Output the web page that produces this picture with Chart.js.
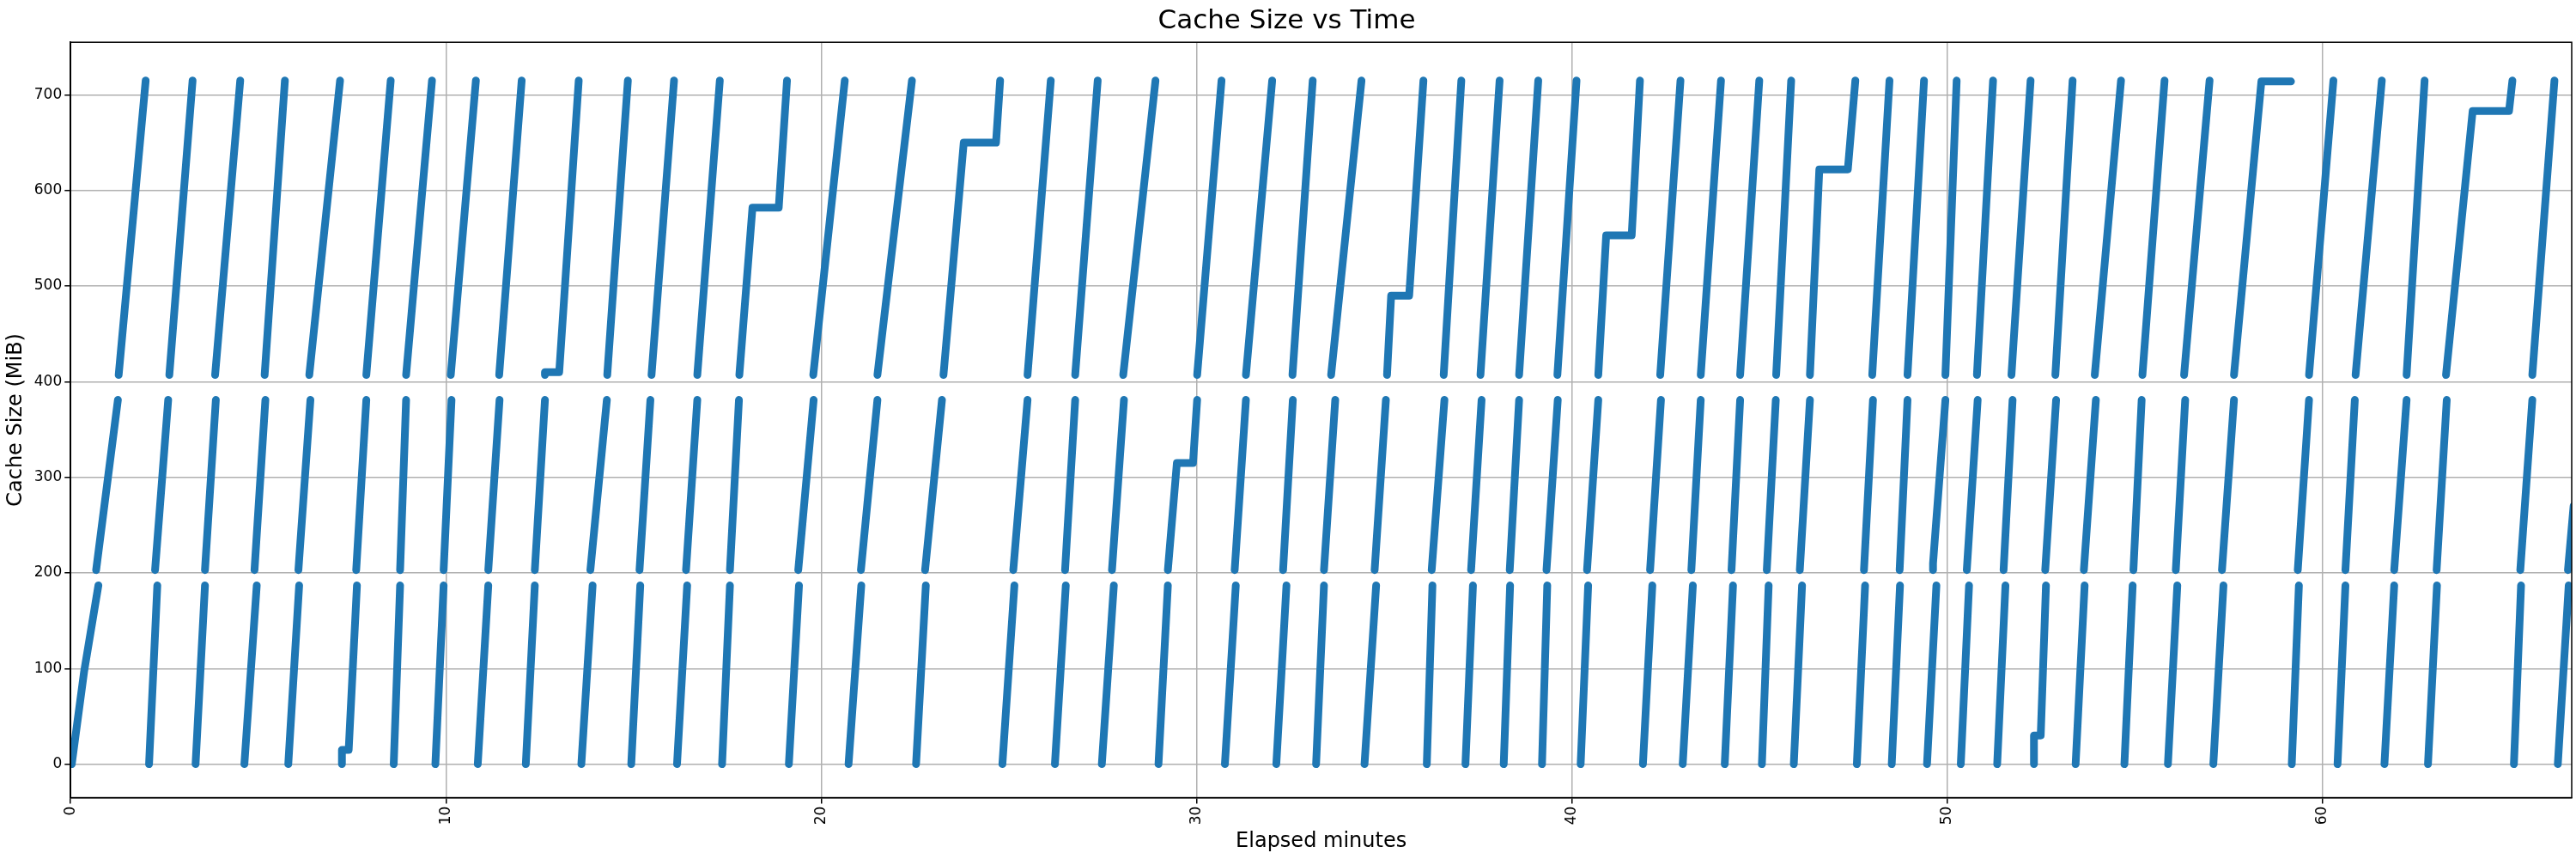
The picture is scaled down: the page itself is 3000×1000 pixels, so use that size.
<!DOCTYPE html>
<html>
<head>
<meta charset="utf-8">
<script src="https://cdn.jsdelivr.net/npm/chart.js@4"></script>
<style>
  body { margin: 0; background: #fff; }
  #wrap { width: 3000px; height: 1000px; }
</style>
</head>
<body>
<div id="wrap"><canvas id="cacheChart" width="3000" height="1000"></canvas></div>
<script>
// tick labels
const xTicks = [0, 10, 20, 30, 40, 50, 60];
const yTicks = [0, 100, 200, 300, 400, 500, 600, 700];

// each band fills from low to high, ramps are [startMin, endMin] or [startMin, endMin, endValue]
const topLow = 407, topHigh = 715;
const topRamps = [
  [1.28, 2.00], [2.63, 3.25], [3.85, 4.52], [5.17, 5.71], [6.36, 7.18], [7.88, 8.53],
  [8.94, 9.63], [10.13, 10.80], [11.42, 12.02], [12.64, 13.54], [14.30, 14.85], [15.48, 16.08],
  [16.70, 17.30], [17.82, 19.09], [19.79, 20.63], [21.50, 22.42], [23.26, 24.77], [25.50, 26.12],
  [26.77, 27.37], [28.05, 28.91], [30.02, 30.67], [31.32, 32.02], [32.56, 33.10], [33.59, 34.40],
  [35.08, 36.05], [36.59, 37.06], [37.57, 38.08], [38.60, 39.11], [39.62, 40.13], [40.71, 41.82],
  [42.36, 42.90], [43.44, 43.98], [44.49, 45.00], [45.45, 45.85], [46.35, 47.56], [48.01, 48.47],
  [48.95, 49.39], [49.96, 50.26], [50.80, 51.23], [51.72, 52.23], [52.89, 53.35], [53.94, 54.64],
  [55.21, 55.80], [56.32, 57.00], [57.65, 59.17, 714], [59.65, 60.30], [60.89, 61.59], [62.25, 62.73],
  [63.30, 65.07], [65.60, 66.19]
];
// [rampIndex, reachMin, value, leaveMin]
const topSteps = [
  [9, 12.64, 410, 13.02], [13, 18.17, 582, 18.87], [16, 23.80, 650, 24.66], [24, 35.19, 490, 35.67],
  [29, 40.92, 553, 41.60], [34, 46.60, 622, 47.36], [44, 58.38, 714, 58.38], [48, 64.01, 683, 64.98]
];

const midLow = 203, midHigh = 381;
const midRamps = [
  [0.68, 1.26], [2.25, 2.60], [3.58, 3.87], [4.90, 5.19], [6.07, 6.39], [7.61, 7.88],
  [8.78, 8.94], [9.94, 10.15], [11.13, 11.43], [12.37, 12.64], [13.85, 14.29], [15.16, 15.45],
  [16.40, 16.70], [17.57, 17.81], [19.39, 19.80], [21.06, 21.50], [22.77, 23.22], [25.12, 25.50],
  [26.50, 26.77], [27.75, 28.07], [29.24, 30.02], [31.02, 31.32], [32.31, 32.57], [33.40, 33.70],
  [34.75, 35.05], [36.27, 36.61], [37.32, 37.60], [38.35, 38.60], [39.33, 39.63], [40.41, 40.71],
  [42.09, 42.38], [43.19, 43.44], [44.26, 44.49], [45.20, 45.44], [46.08, 46.35], [47.79, 48.03],
  [48.74, 48.95], [49.63, 49.96], [50.53, 50.82], [51.51, 51.75], [52.62, 52.91], [53.65, 53.97],
  [54.97, 55.19], [56.10, 56.35], [57.33, 57.65], [59.35, 59.65], [60.62, 60.87], [61.92, 62.25],
  [63.05, 63.32], [65.28, 65.60], [66.55, 66.70, 270]
];
const midSteps = [
  [20, 29.48, 315, 29.91], [37, 49.63, 210, 49.63]
];

const lowLow = 0, lowHigh = 187;
const lowRamps = [
  [0.03, 0.74], [2.09, 2.31], [3.33, 3.58], [4.63, 4.96], [5.80, 6.09], [7.23, 7.63],
  [8.61, 8.78], [9.72, 9.94], [10.85, 11.13], [12.13, 12.37], [13.61, 13.91], [14.94, 15.18],
  [16.16, 16.43], [17.36, 17.57], [19.14, 19.41], [20.73, 21.07], [22.53, 22.79], [24.83, 25.15],
  [26.23, 26.52], [27.48, 27.80], [28.99, 29.24], [30.76, 31.05], [32.13, 32.40], [33.19, 33.40],
  [34.48, 34.79], [36.14, 36.29], [37.17, 37.37], [38.19, 38.36], [39.21, 39.35], [40.24, 40.44],
  [41.90, 42.15], [42.96, 43.23], [44.08, 44.30], [45.07, 45.25], [45.92, 46.14], [47.60, 47.82],
  [48.53, 48.75], [49.47, 49.72], [50.37, 50.59], [51.34, 51.56], [52.32, 52.64], [53.43, 53.67],
  [54.73, 54.95], [55.89, 56.14], [57.10, 57.37], [59.19, 59.38], [60.41, 60.62], [61.66, 61.92],
  [62.82, 63.06], [65.11, 65.30], [66.28, 66.57]
];
const lowSteps = [
  [0, 0.36, 97, 0.36], [5, 7.23, 15, 7.41], [40, 52.32, 30, 52.50]
];

// turn ramps into line points, null breaks between ramps
function bandPoints(ramps, steps, low, high) {
  const pts = [];
  ramps.forEach((r, i) => {
    pts.push({x: r[0], y: low});
    steps.filter(s => s[0] === i).forEach(s => {
      pts.push({x: s[1], y: s[2]});
      pts.push({x: s[3], y: s[2]});
    });
    pts.push({x: r[1], y: r.length > 2 ? r[2] : high});
    pts.push({x: r[1], y: null});
  });
  return pts;
}

const blue = '#1f77b4';
function band(label, pts) {
  return {
    label: label, data: pts, showLine: true, spanGaps: false,
    borderColor: blue, backgroundColor: blue, borderWidth: 9,
    borderCapStyle: 'round', borderJoinStyle: 'round', pointRadius: 0
  };
}

// box around the plot like matplotlib
const frame = {
  id: 'frame',
  afterDraw(chart) {
    const a = chart.chartArea, c = chart.ctx;
    c.save();
    c.strokeStyle = '#000';
    c.lineWidth = 1.5;
    c.strokeRect(a.left, a.top, a.right - a.left, a.bottom - a.top);
    c.restore();
  }
};

const font = 'DejaVu Sans';
new Chart(document.getElementById('cacheChart'), {
  type: 'scatter',
  data: {
    datasets: [
      band('top', bandPoints(topRamps, topSteps, topLow, topHigh)),
      band('mid', bandPoints(midRamps, midSteps, midLow, midHigh)),
      band('low', bandPoints(lowRamps, lowSteps, lowLow, lowHigh))
    ]
  },
  options: {
    responsive: false,
    animation: false,
    layout: { padding: { left: 2, right: 5, top: 0, bottom: 0 } },
    plugins: {
      legend: { display: false },
      tooltip: { enabled: false },
      title: {
        display: true, text: 'Cache Size vs Time', color: '#000',
        font: { family: font, size: 31, weight: 'normal' }, padding: { top: 6, bottom: 6 }
      }
    },
    scales: {
      x: {
        type: 'linear', min: 0, max: 66.65,
        afterBuildTicks: ax => { ax.ticks = xTicks.map(v => ({value: v})); },
        ticks: { color: '#000', maxRotation: 90, minRotation: 90, font: { family: font, size: 17 } },
        grid: { color: '#b0b0b0', lineWidth: 1.5, drawTicks: true, tickLength: 7, tickColor: '#000' },
        border: { color: '#000', width: 1.5 },
        title: { display: true, text: 'Elapsed minutes', color: '#000', font: { family: font, size: 24 }, padding: { top: 2, bottom: 6 } }
      },
      y: {
        min: -35, max: 755,
        afterBuildTicks: ax => { ax.ticks = yTicks.map(v => ({value: v})); },
        ticks: { color: '#000', font: { family: font, size: 17 } },
        grid: { color: '#b0b0b0', lineWidth: 1.5, tickLength: 7, tickColor: '#000' },
        border: { color: '#000', width: 1.5 },
        title: { display: true, text: 'Cache Size (MiB)', color: '#000', font: { family: font, size: 24 }, padding: { top: 2, bottom: 4 } }
      }
    }
  },
  plugins: [frame]
});
</script>
</body>
</html>
